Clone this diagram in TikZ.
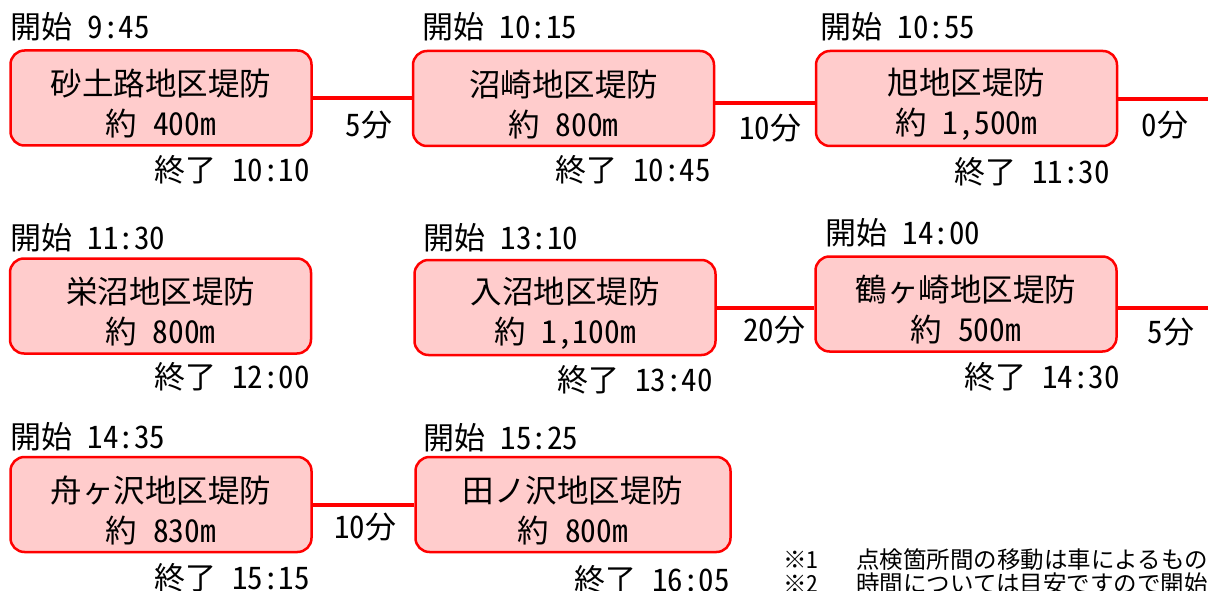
\documentclass[tikz,border=0pt]{standalone}
\usepackage{fontspec}
\setmainfont{Noto Sans CJK JP}[RawFeature=+hwid]
\definecolor{boxfill}{HTML}{FFCCCC}
\definecolor{boxred}{HTML}{FF0000}
\newcommand\bxstrut{\rule{0pt}{38pt}}
\newcommand\notemark[1]{\makebox[73pt][l]{#1}}
\begin{document}
\begin{tikzpicture}[x=1pt,y=-1pt,
  box/.style={draw=boxred, fill=boxfill, line width=2.5pt, rounded corners=14pt,
    minimum width=301pt, minimum height=95pt, inner sep=0pt, align=center,
    font=\fontsize{31.5}{40}\selectfont},
  lbl/.style={inner sep=0pt, font=\fontsize{31}{36}\selectfont},
  conn/.style={draw=boxred, line width=4pt},
  note/.style={inner sep=0pt, anchor=base west, font=\fontsize{23.5}{25}\selectfont}]
\useasboundingbox (0,0) rectangle (1208,591);
\clip (0,0) rectangle (1208,591);

% row 1
\node[box] (b1) at (161,98) {\bxstrut 砂土路地区堤防\\約 400m};
\node[box] (b2) at (563.5,98.5) {\bxstrut 沼崎地区堤防\\約 800m};
\node[box] (b3) at (966.5,98.5) {\bxstrut 旭地区堤防\\約 1,500m};
\coordinate (r1) at (1208,99);
\draw[conn] (b1.east) -- (b1.east -| b2.west);
\draw[conn] ([yshift=-4.5pt]b2.east) -- ([yshift=-4.5pt]b3.west);
\draw[conn] (b3.east |- r1) -- (r1);
\node[lbl,anchor=west] (s1) at (10,27) {開始 9:45};
\node[lbl,anchor=east] (e1) at (310,170) {終了 10:10};
\node[lbl,anchor=west] (s2) at (422,27) {開始 10:15};
\node[lbl,anchor=east] (e2) at (711,170) {終了 10:45};
\node[lbl,anchor=west] (s3) at (820,27) {開始 10:55};
\node[lbl,anchor=east] (e3) at (1110,172) {終了 11:30};
\node[lbl] (t12) at (369,125) {5分};
\node[lbl] (t23) at (770,128) {10分};
\node[lbl] (t3) at (1165,125) {0分};

% row 2
\node[box] (b4) at (160.5,306) {\bxstrut 栄沼地区堤防\\約 800m};
\node[box] (b5) at (565,307.5) {\bxstrut 入沼地区堤防\\約 1,100m};
\node[box] (b6) at (966,304) {\bxstrut 鶴ヶ崎地区堤防\\約 500m};
\coordinate (r2) at (1208,308);
\draw[conn] (b5.east) -- (b5.east -| b6.west);
\draw[conn] (b6.east |- r2) -- (r2);
\node[lbl,anchor=west] (s4) at (10,238) {開始 11:30};
\node[lbl,anchor=east] (e4) at (310,377) {終了 12:00};
\node[lbl,anchor=west] (s5) at (423,238) {開始 13:10};
\node[lbl,anchor=east] (e5) at (713,380) {終了 13:40};
\node[lbl,anchor=west] (s6) at (825,233) {開始 14:00};
\node[lbl,anchor=east] (e6) at (1120,377) {終了 14:30};
\node[lbl] (t56) at (774,330) {20分};
\node[lbl] (t6) at (1171,332) {5分};

% row 3
\node[box] (b7) at (161,504.5) {\bxstrut 舟ヶ沢地区堤防\\約 830m};
\node[box,minimum width=315pt] (b8) at (573,504.5) {\bxstrut 田ノ沢地区堤防\\約 800m};
\draw[conn] (b7.east) -- (b7.east -| b8.west);
\node[lbl,anchor=west] (s7) at (10,437) {開始 14:35};
\node[lbl,anchor=east] (e7) at (310,578) {終了 15:15};
\node[lbl,anchor=west] (s8) at (423,438) {開始 15:25};
\node[lbl,anchor=east] (e8) at (730,580) {終了 16:05};
\node[lbl] (t78) at (365,527) {10分};

% notes
\node[note] (n1) at (783,568) {\notemark{※１}点検箇所間の移動は車によるもの};
\node[note] (n2) at (783,592) {\notemark{※２}時間については目安ですので開始};
\end{tikzpicture}
\end{document}
